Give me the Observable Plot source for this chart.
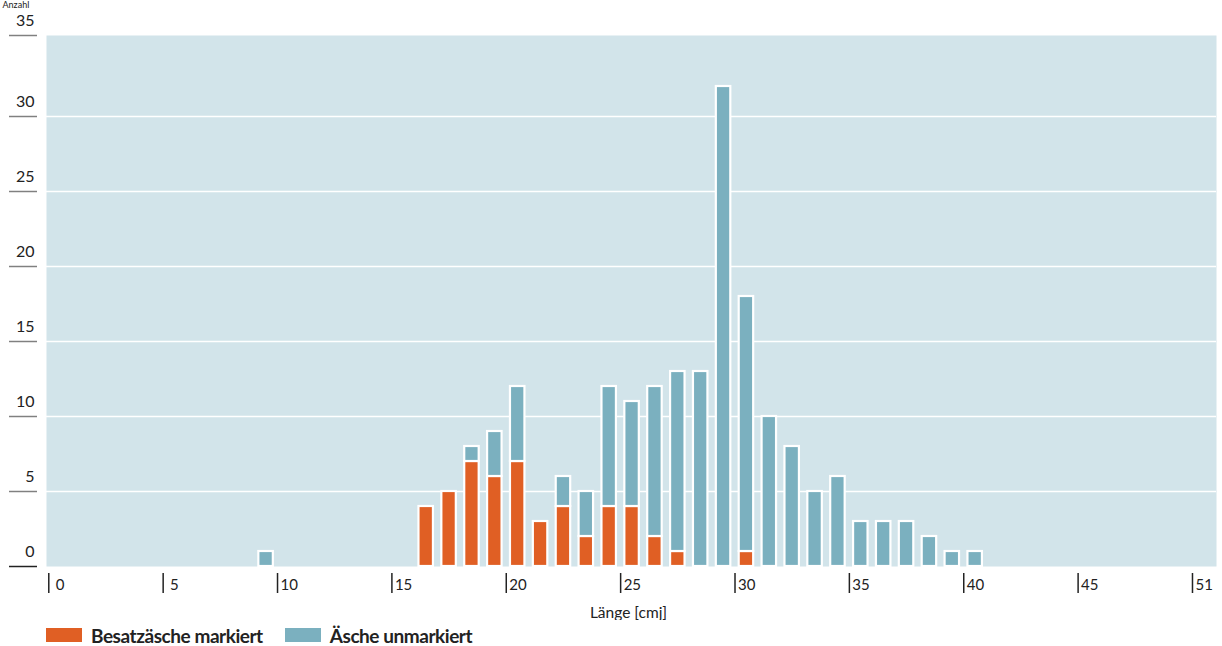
<!DOCTYPE html>
<html>
<head>
<meta charset="utf-8">
<script src="https://cdn.jsdelivr.net/npm/d3@7"></script>
<script src="https://cdn.jsdelivr.net/npm/@observablehq/plot@0.6"></script>
<style>
  html, body { margin: 0; padding: 0; background: #fff; }
  body { font-family: Lato, "Open Sans", sans-serif; width: 1222px; }
  #legend { display: flex; align-items: center; height: 30px; padding-left: 46px; }
  .item { display: flex; align-items: center; margin-right: 22px; }
  .sw { width: 36px; height: 14px; margin-right: 9px; }
  .lab { font-weight: 700; font-size: 19px; letter-spacing: -0.45px; color: #222; }
</style>
</head>
<body>
<div id="chart"></div>
<div id="legend"></div>
<script>
// Fish length classes (cm) and counts
const lengths    = [9, 16, 17, 18, 19, 20, 21, 22, 23, 24, 25, 26, 27, 28, 29, 30, 31, 32, 33, 34, 35, 36, 37, 38, 39, 40];
const markiert   = [0,  4,  5,  7,  6,  7,  3,  4,  2,  4,  4,  2,  1,  0,  0,  1,  0,  0,  0,  0,  0,  0,  0,  0,  0,  0];
const unmarkiert = [1,  0,  0,  1,  3,  5,  0,  2,  3,  8,  7, 10, 12, 13, 32, 17, 10,  8,  5,  6,  3,  3,  3,  2,  1,  1];

const seriesNames  = ["Besatzäsche markiert", "Äsche unmarkiert"];
const seriesColors = ["#e05f24", "#7bb0bf"];

// y axis: the top tick sits at the top of the frame
const yMax = 35.4;
const yTickValues = [0, 5, 10, 15, 20, 25, 30, yMax];
const yTickLabels = ["0", "5", "10", "15", "20", "25", "30", "35"];
const gridTicks = [5, 10, 15, 20, 25, 30];
const xTickValues = [0, 5, 10, 15, 20, 25, 30, 35, 40, 45, 50];
const xTickLabels = [" 0", " 5", "10", "15", "20", "25", "30", "35", "40", "45", "51"];

const xLabel = "Länge [cmj]";
const yLabel = "Anzahl";

const rows = [];
lengths.forEach((len, i) => {
  if (markiert[i] > 0) rows.push({len, count: markiert[i], series: seriesNames[0]});
  if (unmarkiert[i] > 0) rows.push({len, count: unmarkiert[i], series: seriesNames[1]});
});

const xLabelMap = new Map(xTickValues.map((v, i) => [v, xTickLabels[i]]));
const yLabelMap = new Map(yTickValues.map((v, i) => [v, yTickLabels[i]]));

const chart = Plot.plot({
  width: 1222,
  height: 620,
  marginLeft: 46,
  marginRight: 6,
  marginTop: 35,
  marginBottom: 54,
  style: {fontFamily: "Lato, 'Open Sans', sans-serif", background: "#fff", overflow: "hidden"},
  x: {domain: [-0.1, 51.05]},
  y: {domain: [0, yMax]},
  color: {domain: seriesNames, range: seriesColors},
  marks: [
    Plot.frame({fill: "#d2e4ea", stroke: "none"}),
    Plot.gridY(gridTicks, {stroke: "#fff", strokeOpacity: 1, strokeWidth: 1.5}),
    Plot.rectY(rows, {
      x1: "len", x2: d => d.len + 1, y: "count", fill: "series",
      order: seriesNames,
      stroke: "#fff", strokeWidth: 2.2, insetLeft: 4.2, insetRight: 4.2
    }),
    // y axis tick lines
    Plot.axisY(yTickValues.filter(d => d !== 0), {tickSize: 28, dx: -9, stroke: "#808080", strokeWidth: 1.5, fill: "none", label: null}),
    Plot.axisY([0], {tickSize: 28, dx: -9, stroke: "#222", strokeWidth: 1.5, fill: "none", label: null}),
    // y axis labels (above tick lines)
    Plot.axisY(yTickValues, {tickSize: 0, tickPadding: 12, textAnchor: "end", lineAnchor: "middle", dy: -14.5, fontSize: 16, fill: "#222",
      tickFormat: d => yLabelMap.get(d), label: null}),
    // x axis tick lines
    Plot.axisX(xTickValues, {tickSize: 20, dy: 7, stroke: "#222", strokeWidth: 1.5, fill: "none", label: null}),
    // x axis labels
    Plot.axisX(xTickValues, {tickSize: 0, tickPadding: 0, textAnchor: "start", lineAnchor: "middle", dx: 3, dy: 19, fontSize: 15, fill: "#222",
      tickFormat: d => xLabelMap.get(d), label: null}),
    // axis titles
    Plot.text([xLabel], {frameAnchor: "bottom", dx: -3, dy: 47, lineAnchor: "middle", fontSize: 15.5, fill: "#222"}),
    Plot.text([yLabel], {frameAnchor: "top-left", dx: -44, dy: -34, textAnchor: "start", lineAnchor: "top", fontSize: 9, fill: "#222"})
  ]
});
document.getElementById("chart").appendChild(chart);

const legend = document.getElementById("legend");
seriesNames.forEach((name, i) => {
  const item = document.createElement("div");
  item.className = "item";
  const sw = document.createElement("div");
  sw.className = "sw";
  sw.style.background = seriesColors[i];
  const lab = document.createElement("span");
  lab.className = "lab";
  lab.textContent = name;
  item.appendChild(sw);
  item.appendChild(lab);
  legend.appendChild(item);
});
</script>
</body>
</html>
